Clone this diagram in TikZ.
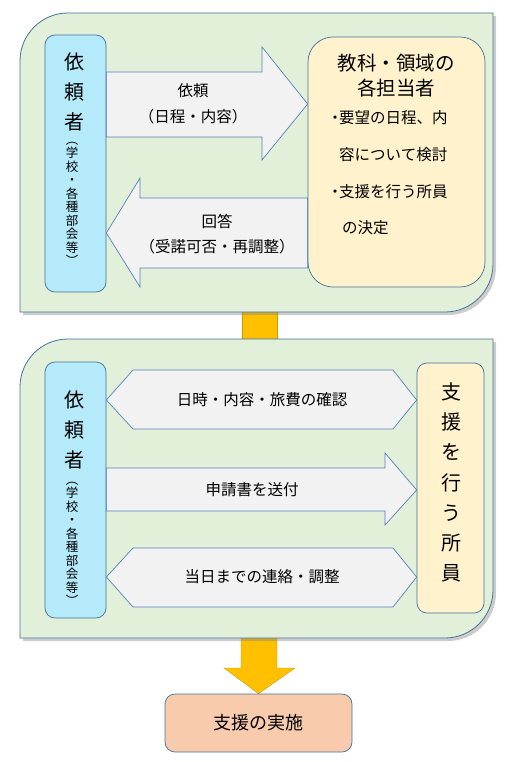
\documentclass[tikz,border=0pt]{standalone}
\usepackage{fontspec}
\setmainfont{Noto Sans CJK JP}
\usetikzlibrary{backgrounds}
\definecolor{panelbg}{RGB}{226,240,217}
\definecolor{panelline}{RGB}{65,113,156}
\definecolor{arrowbg}{RGB}{242,242,242}
\definecolor{arrowline}{RGB}{84,128,190}
\definecolor{reqbg}{RGB}{180,234,250}
\definecolor{staffbg}{RGB}{255,242,204}
\definecolor{donebg}{RGB}{248,203,173}
\definecolor{flowyellow}{RGB}{255,192,0}
\tikzset{
  panel/.style={draw=panelline,fill=panelbg,line width=0.8pt},
  panelshadow/.style={fill=black!50,opacity=0.4},
  reqbox/.style={draw=panelline,fill=reqbg,rounded corners=10pt,line width=0.7pt,inner sep=0pt},
  staffbox/.style={draw=panelline,fill=staffbg,line width=0.7pt,inner sep=0pt},
  barrow/.style={draw=arrowline,fill=arrowbg,line width=0.7pt},
  yarrow/.style={fill=flowyellow,draw=flowyellow!80!black,line width=0.4pt},
  bigv/.style={align=center,font=\fontsize{20}{30}\selectfont,inner sep=0pt},
  smallv/.style={align=center,font=\fontsize{12.5}{13.5}\selectfont,inner sep=0pt},
  msg/.style={align=center,font=\fontsize{15.5}{26}\selectfont,inner sep=0pt},
}

\begin{document}
\begin{tikzpicture}[x=1pt,y=-1pt]
  \useasboundingbox (0,0) rectangle (511,762);

  % ---依頼の段階 ------------------------------------------------------------
  \node[reqbox,minimum width=61,minimum height=257] (req1) at (75.5,163.5) {};
  \node[bigv] (req1big) at (74,92) {依\\頼\\者};
  \node[smallv] (req1sub) at (72,204) {︵\\学\\校\\・\\各\\種\\部\\会\\等\\︶};

  \node[staffbox,rounded corners=25pt,minimum width=177,minimum height=250] (tant) at (396.5,162) {};
  \node[align=center,inner sep=0pt,font=\fontsize{19.5}{25}\selectfont] (tanthead) at (396,75.5)
        {教科・領域の\\各担当者};
  \node[anchor=west,align=left,inner sep=0pt,font=\fontsize{15.5}{36.7}\selectfont] (tantnote) at (331,173)
        {\makebox[8pt][c]{・}要望の日程、内\\
         \hspace*{8pt}容について検討\\
         \makebox[8pt][c]{・}支援を行う所員\\
         \hspace*{11pt}の決定};

  \node[msg] (irai) at (193,103.5) {依頼\\（日程・内容）};
  \node[msg,font=\fontsize{15.5}{25}\selectfont] (kaito) at (217,234.5) {回答\\（受諾可否・再調整）};

  % --- 調整の段階 ------------------------------------------------------------
  \node[reqbox,minimum width=61,minimum height=256] (req2) at (75.5,490) {};
  \node[bigv] (req2big) at (74,430) {依\\頼\\者};
  \node[smallv] (req2sub) at (72,544) {︵\\学\\校\\・\\各\\種\\部\\会\\等\\︶};

  \node[staffbox,rounded corners=10pt,minimum width=67,minimum height=250] (staff) at (450.5,488) {};
  \node[bigv,font=\fontsize{20}{30.2}\selectfont] (stafftxt) at (451,482.5) {支\\援\\を\\行\\う\\所\\員};

  \node[msg] (kakunin) at (262,400) {日時・内容・旅費の確認};
  \node[msg] (sofu)    at (252,490) {申請書を送付};
  \node[msg] (renraku) at (262,577) {当日までの連絡・調整};

  % --- 実施 ----------------------------------------------------------------
  \node[draw=panelline,fill=donebg,rounded corners=10pt,line width=0.7pt,
        minimum width=187,minimum height=58,font=\fontsize{18}{22}\selectfont] (done) at (258.5,723)
        {支援の実施};

  \begin{scope}[on background layer]
    % 段階をつなぐ黄色の矢印
    \path[yarrow] (242,300) rectangle (277,350);
    \path[yarrow] (241,630) -- (241,668) -- (224,668) -- (done.north) -- (295,668)
                  -- (277,668) -- (277,630) -- cycle;

    % 二つの段階の枠
    \foreach \yt/\yb in {13/312,339/638}{
      \path[panelshadow] (23,\yb+3) -- (23,\yt+51) arc[start angle=180,end angle=270,radius=48]
            -- (496,\yt+3) -- (496,\yb-45) arc[start angle=0,end angle=90,radius=48] -- cycle;
      \path[panel] (20,\yb) -- (20,\yt+48) arc[start angle=180,end angle=270,radius=48]
            -- (493,\yt) -- (493,\yb-48) arc[start angle=0,end angle=90,radius=48] -- cycle;
    }

    % 依頼と回答
    \path[barrow] (req1.east|-0,72) -- (262,72) -- (262,47) -- (tant.west|-0,104)
          -- (262,160) -- (262,137) -- (req1.east|-0,137) -- cycle;
    \path[barrow] (tant.west|-0,198) -- (140,198) -- (140,178) -- (req1.east|-0,233)
          -- (140,287) -- (140,268) -- (tant.west|-0,268) -- cycle;

    % 所員とのやりとり
    \path[barrow] (req2.east|-0,400) -- (133,370) -- (393,370) -- (staff.west|-0,400)
          -- (393,429) -- (133,429) -- cycle;
    \path[barrow] (req2.east|-0,468) -- (385,468) -- (385,453) -- (staff.west|-0,490)
          -- (385,525) -- (385,511) -- (req2.east|-0,511) -- cycle;
    \path[barrow] (req2.east|-0,577) -- (133,548) -- (393,548) -- (staff.west|-0,577)
          -- (393,607) -- (133,607) -- cycle;
  \end{scope}
\end{tikzpicture}
\end{document}
